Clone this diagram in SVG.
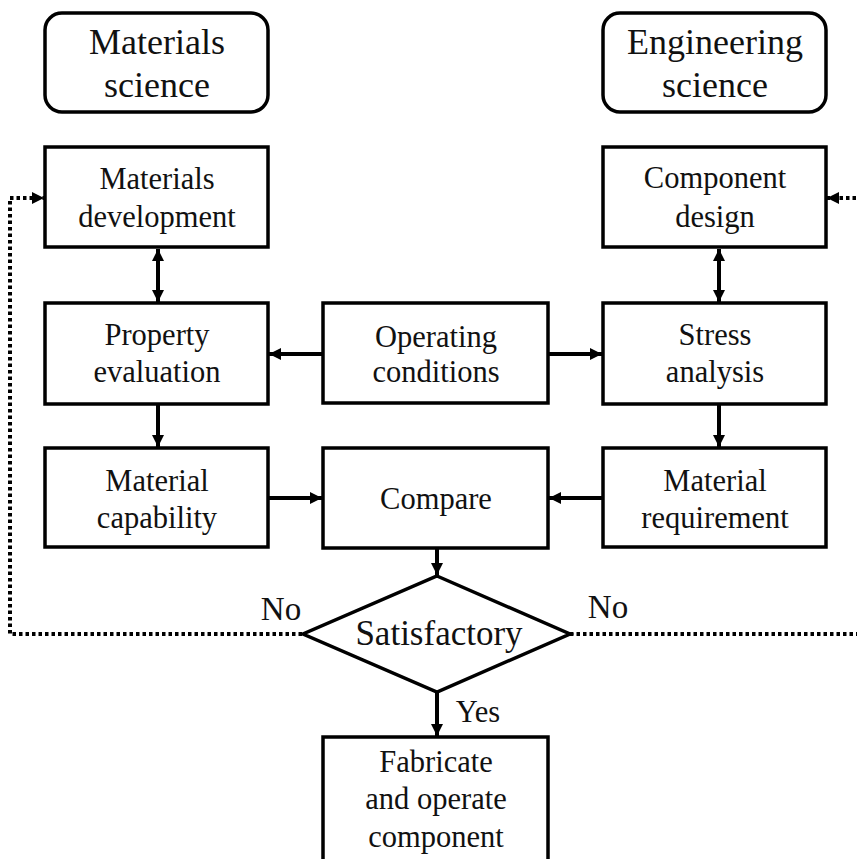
<svg xmlns="http://www.w3.org/2000/svg" width="857" height="859" viewBox="0 0 857 859">
<style>
.box{fill:#fff;stroke:#000;stroke-width:3.5}
.t{font-family:'Liberation Serif','Times New Roman',serif;font-size:30.5px;fill:#111;text-anchor:middle}
.h{font-size:36px}
.c{fill:none;stroke:#000;stroke-width:4}
.d{fill:none;stroke:#000;stroke-width:4;stroke-dasharray:3.5 3}
</style>
<defs>
<marker id="ah" markerUnits="userSpaceOnUse" markerWidth="13" markerHeight="13" refX="12" refY="6.5" orient="auto-start-reverse" viewBox="0 0 13 13">
<path d="M0,0.5 L12,6.5 L0,12.5 z" fill="#000"/>
</marker>
</defs>
<rect width="857" height="859" fill="#fff"/>
<g id="connectors">
<line class="c" x1="158" y1="249" x2="158" y2="302" marker-start="url(#ah)" marker-end="url(#ah)"/>
<line class="c" x1="719" y1="249" x2="719" y2="302" marker-start="url(#ah)" marker-end="url(#ah)"/>
<line class="c" x1="323" y1="354" x2="269" y2="354" marker-end="url(#ah)"/>
<line class="c" x1="548" y1="354" x2="602" y2="354" marker-end="url(#ah)"/>
<line class="c" x1="158" y1="404" x2="158" y2="447" marker-end="url(#ah)"/>
<line class="c" x1="719" y1="404" x2="719" y2="447" marker-end="url(#ah)"/>
<line class="c" x1="268" y1="498" x2="322" y2="498" marker-end="url(#ah)"/>
<line class="c" x1="603" y1="498" x2="549" y2="498" marker-end="url(#ah)"/>
<line class="c" x1="437" y1="548" x2="437" y2="575" marker-end="url(#ah)"/>
<line class="c" x1="437" y1="693" x2="437" y2="736" marker-end="url(#ah)"/>
<path class="d" d="M302,634 H10 V198 H44" marker-end="url(#ah)"/>
<path class="d" d="M570,634 H872 V198 H827" marker-end="url(#ah)"/>
<text class="t" x="281" y="620" style="font-size:33px">No</text>
<text class="t" x="608" y="618" style="font-size:33px">No</text>
<text class="t" x="478" y="722">Yes</text>
</g>
<g id="materials-science">
<rect class="box" x="45" y="13" width="223" height="99" rx="17"/>
<text class="t h" x="157" y="54">Materials</text>
<text class="t h" x="157" y="97">science</text>
</g>
<g id="engineering-science">
<rect class="box" x="603" y="13" width="223" height="99" rx="17"/>
<text class="t h" x="715" y="54">Engineering</text>
<text class="t h" x="715" y="97">science</text>
</g>
<g id="materials-development">
<rect class="box" x="45" y="147" width="223" height="100"/>
<text class="t" x="157" y="189">Materials</text>
<text class="t" x="157" y="227">development</text>
</g>
<g id="component-design">
<rect class="box" x="603" y="147" width="223" height="100"/>
<text class="t" x="715" y="188">Component</text>
<text class="t" x="715" y="227">design</text>
</g>
<g id="property-evaluation">
<rect class="box" x="45" y="303" width="223" height="101"/>
<text class="t" x="157" y="345">Property</text>
<text class="t" x="157" y="382">evaluation</text>
</g>
<g id="operating-conditions">
<rect class="box" x="323" y="303" width="225" height="100"/>
<text class="t" x="436" y="347">Operating</text>
<text class="t" x="436" y="382">conditions</text>
</g>
<g id="stress-analysis">
<rect class="box" x="603" y="303" width="223" height="101"/>
<text class="t" x="715" y="345">Stress</text>
<text class="t" x="715" y="382">analysis</text>
</g>
<g id="material-capability">
<rect class="box" x="45" y="448" width="223" height="99"/>
<text class="t" x="157" y="491">Material</text>
<text class="t" x="157" y="528">capability</text>
</g>
<g id="compare">
<rect class="box" x="323" y="448" width="225" height="100"/>
<text class="t" x="436" y="509">Compare</text>
</g>
<g id="material-requirement">
<rect class="box" x="603" y="448" width="223" height="99"/>
<text class="t" x="715" y="491">Material</text>
<text class="t" x="715" y="528">requirement</text>
</g>
<g id="satisfactory">
<polygon class="box" points="437,576 570,634 437,692 303,634"/>
<text class="t" x="439" y="645" style="font-size:35px">Satisfactory</text>
</g>
<g id="fabricate">
<rect class="box" x="323" y="737" width="225" height="140"/>
<text class="t" x="436" y="772">Fabricate</text>
<text class="t" x="436" y="809">and operate</text>
<text class="t" x="436" y="847">component</text>
</g>
</svg>
